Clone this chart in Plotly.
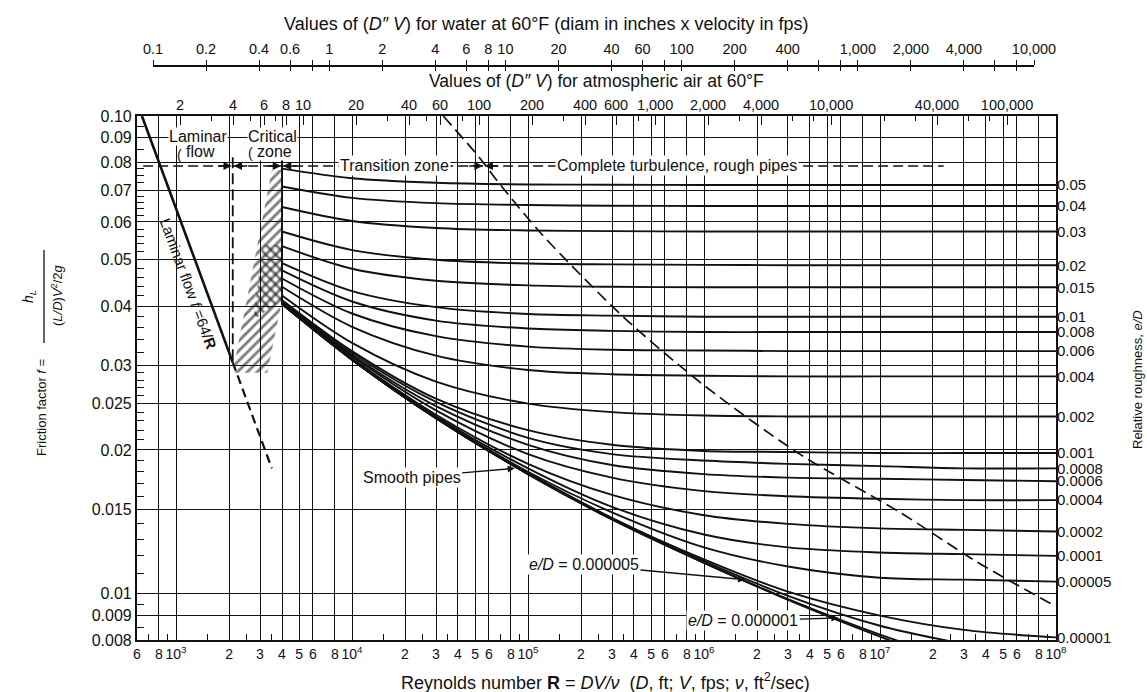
import math
import plotly.graph_objects as go

# ---------------- data ----------------
# Reynolds numbers at which the friction-factor curves were read
RE = [4000, 1e4, 3e4, 1e5, 3e5, 1e6, 3e6, 1e7, 3e7, 1e8]
RE_LOW = [4000, 1e4, 3e4, 1e5, 3e5, 1e6, 3e6, 1e7, 3e7]

ROUGH_LABELS = ["0.05", "0.04", "0.03", "0.02", "0.015", "0.01", "0.008", "0.006",
                "0.004", "0.002", "0.001", "0.0008", "0.0006", "0.0004", "0.0002",
                "0.0001", "0.00005", "0.00001"]
f_050 = [0.0776, 0.0741, 0.0725, 0.0719, 0.0718, 0.0717, 0.0717, 0.0717, 0.0717, 0.0717]
f_040 = [0.0712, 0.0674, 0.0657, 0.0651, 0.0649, 0.0648, 0.0648, 0.0648, 0.0648, 0.0648]
f_030 = [0.0645, 0.0603, 0.0583, 0.0576, 0.0574, 0.0573, 0.0573, 0.0573, 0.0573, 0.0573]
f_020 = [0.0573, 0.0524, 0.0500, 0.0491, 0.0489, 0.0488, 0.0487, 0.0487, 0.0487, 0.0487]
f_015 = [0.0534, 0.0479, 0.0452, 0.0442, 0.0439, 0.0438, 0.0438, 0.0438, 0.0438, 0.0438]
f_010 = [0.0492, 0.0430, 0.0398, 0.0385, 0.0382, 0.0380, 0.0380, 0.0380, 0.0380, 0.0380]
f_008 = [0.0475, 0.0409, 0.0373, 0.0359, 0.0355, 0.0353, 0.0353, 0.0353, 0.0353, 0.0353]
f_006 = [0.0457, 0.0386, 0.0346, 0.0329, 0.0324, 0.0323, 0.0322, 0.0322, 0.0322, 0.0322]
f_004 = [0.0439, 0.0362, 0.0315, 0.0294, 0.0288, 0.0286, 0.0285, 0.0285, 0.0285, 0.0285]
f_002 = [0.0421, 0.0335, 0.0278, 0.0250, 0.0240, 0.0236, 0.0235, 0.0235, 0.0235, 0.0235]
f_001 = [0.0412, 0.0322, 0.0256, 0.0220, 0.0205, 0.0199, 0.0198, 0.0197, 0.0197, 0.0197]
f_0008 = [0.0410, 0.0319, 0.0252, 0.0212, 0.0196, 0.0190, 0.0187, 0.0185, 0.0183, 0.0183]
f_0006 = [0.0409, 0.0316, 0.0247, 0.0205, 0.0186, 0.0178, 0.0175, 0.0174, 0.0173, 0.0172]
f_0004 = [0.0407, 0.0314, 0.0242, 0.0196, 0.0175, 0.0164, 0.0160, 0.0158, 0.0157, 0.0157]
f_0002 = [0.0406, 0.0311, 0.0237, 0.0187, 0.0161, 0.0146, 0.0140, 0.0137, 0.0136, 0.0135]
f_0001 = [0.0405, 0.0310, 0.0235, 0.0183, 0.0152, 0.0133, 0.0125, 0.0122, 0.0121, 0.0120]
f_00005 = [0.0404, 0.0309, 0.0234, 0.0180, 0.0148, 0.0125, 0.0114, 0.0108, 0.0107, 0.0106]
f_00001 = [0.0404, 0.0309, 0.0233, 0.0179, 0.0144, 0.0118, 0.0101, 0.0090, 0.0084, 0.0081]
# curves that leave the chart through the bottom edge
f_000005 = [0.0404, 0.0309, 0.0233, 0.0178, 0.0144, 0.0117, 0.0099, 0.00857, 0.00785]
f_000001 = [0.0404, 0.0309, 0.0233, 0.0178, 0.0143, 0.0116, 0.00974, 0.00821, 0.00719]
f_smooth = [0.0404, 0.0309, 0.0233, 0.0178, 0.0143, 0.0116, 0.00971, 0.00813, 0.00700]

ROUGH_CURVES = [f_050, f_040, f_030, f_020, f_015, f_010, f_008, f_006, f_004, f_002,
                f_001, f_0008, f_0006, f_0004, f_0002, f_0001, f_00005, f_00001]
LOW_CURVES = [f_000005, f_000001, f_smooth]

# laminar line f = 64/R (solid part, dashed extension)
LAM_R = [640, 2100]
LAM_F = [0.100, 0.0305]
LAM_EXT_R = [2100, 3500]
LAM_EXT_F = [0.0305, 0.0183]
# dashed vertical boundary of the laminar zone
CRIT_R = [2100, 2100]
CRIT_F = [0.082, 0.0305]
# zone line across the top
ZONE_R = [650, 2.3e7]
ZONE_F = [0.0786, 0.0786]
ZONE_ARROW_R = [2100, 4000, 5.6e4]
# boundary of complete turbulence (dashed curve)
TURB_R = [3.3e4, 5.3e4, 7e4, 1.2e5, 3.5e5, 1e6, 3.5e6, 1.3e7, 3.5e7, 1e8]
TURB_F = [0.100, 0.0818, 0.0716, 0.0565, 0.0379, 0.0273, 0.0196, 0.0148, 0.0117, 0.0094]
# hatched critical zone
HATCH_R = [3500, 4000, 4000, 3300, 2100]
HATCH_F = [0.0771, 0.0771, 0.0412, 0.0290, 0.0290]
CROSS_R = [3100, 4000, 4000, 2750]
CROSS_F = [0.0537, 0.0537, 0.0412, 0.0374]

# axis ticks
XT = [600, 800, 1e3, 2e3, 3e3, 4e3, 5e3, 6e3, 8e3, 1e4, 2e4, 3e4, 4e4, 5e4, 6e4, 8e4,
      1e5, 2e5, 3e5, 4e5, 5e5, 6e5, 8e5, 1e6, 2e6, 3e6, 4e6, 5e6, 6e6, 8e6,
      1e7, 2e7, 3e7, 4e7, 5e7, 6e7, 8e7, 1e8]
XT_TEXT = ["6", "8", "10<sup>3</sup>", "2", "3", "4", "5", "6", "8", "10<sup>4</sup>",
           "2", "3", "4", "5", "6", "8", "10<sup>5</sup>", "2", "3", "4", "5", "6", "8",
           "10<sup>6</sup>", "2", "3", "4", "5", "6", "8", "10<sup>7</sup>",
           "2", "3", "4", "5", "6", "8", "10<sup>8</sup>"]
XM = [700, 900, 1500, 2500, 3500, 1.5e4, 2.5e4, 3.5e4, 7e4, 9e4, 1.5e5, 2.5e5, 3.5e5,
      7e5, 9e5, 1.5e6, 2.5e6, 3.5e6, 7e6, 9e6, 1.5e7, 2.5e7, 3.5e7, 7e7, 9e7]
YT = [0.008, 0.009, 0.01, 0.015, 0.02, 0.025, 0.03, 0.04, 0.05, 0.06, 0.07, 0.08, 0.09, 0.1]
YT_TEXT = ["0.008", "0.009", "0.01", "0.015", "0.02", "0.025", "0.03", "0.04", "0.05",
           "0.06", "0.07", "0.08", "0.09", "0.10"]
YM = [0.0085, 0.0095, 0.011, 0.012, 0.013, 0.014, 0.016, 0.017, 0.018, 0.019, 0.021,
      0.022, 0.023, 0.024, 0.026, 0.027, 0.028, 0.029, 0.032, 0.034, 0.036, 0.038,
      0.042, 0.044, 0.046, 0.048, 0.052, 0.054, 0.056, 0.058, 0.062, 0.064, 0.066,
      0.068, 0.0725, 0.075, 0.0775, 0.085, 0.095]
WATER_T = [0.1, 0.2, 0.4, 0.6, 0.8, 1, 2, 4, 6, 8, 10, 20, 40, 60, 80, 100, 200, 400,
           600, 800, 1000, 2000, 4000, 6000, 8000, 10000]
WATER_TEXT = ["0.1", "0.2", "0.4", "0.6", "", "1", "2", "4", "6", "8", "10", "20", "40",
              "60", "", "100", "200", "400", "", "", "1,000", "2,000", "4,000", "", "",
              "10,000"]
AIR_T = [2, 4, 6, 8, 10, 20, 40, 60, 100, 200, 400, 600, 1000, 2000, 4000, 10000,
         40000, 100000]
AIR_TEXT = ["2", "4", "6", "8", "10", "20", "40", "60", "100", "200", "400", "600",
            "1,000", "2,000", "4,000", "10,000", "40,000", "100,000"]
AIR_M = [3, 5, 7, 30, 50, 80, 300, 800, 3000, 6000, 8000, 20000, 30000, 60000, 80000]
AIR_FACTOR = 527.0          # R per unit of D"V for air at 60 F

R_MIN, R_MAX = 600, 1e8
F_MIN, F_MAX = 0.008, 0.1

# ---------------- layout geometry ----------------
ML, MR, MT, MB = 137, 91, 40, 52
W, H = 1147, 692
PW, PH = W - ML - MR, H - MT - MB
Y_DOMAIN_TOP = (H - MB - 116) / PH


def paper(x, y):
    return (x - ML) / PW, (H - MB - y) / PH


INK = "#111111"
FONT = "Liberation Sans, Arial, Helvetica, sans-serif"
CLEAR = "rgba(0,0,0,0)"

fig = go.Figure()

# hatched critical zone
fig.add_trace(go.Scatter(x=HATCH_R, y=HATCH_F, mode="lines", fill="toself",
                         line=dict(width=0, color=CLEAR), fillcolor=CLEAR,
                         fillpattern=dict(shape="/", fgcolor="#000000", bgcolor=CLEAR,
                                          size=7, solidity=0.42),
                         hoverinfo="skip"))
fig.add_trace(go.Scatter(x=CROSS_R, y=CROSS_F, mode="lines", fill="toself",
                         line=dict(width=0, color=CLEAR), fillcolor=CLEAR,
                         fillpattern=dict(shape="\\", fgcolor="#000000", bgcolor=CLEAR,
                                          size=7, solidity=0.38),
                         hoverinfo="skip"))

# roughness curves
for fl in ROUGH_CURVES:
    fig.add_trace(go.Scatter(x=RE, y=fl, mode="lines",
                             line=dict(color=INK, width=1.9, shape="spline", smoothing=0.9),
                             hoverinfo="skip"))
for fl in LOW_CURVES:
    fig.add_trace(go.Scatter(x=RE_LOW, y=fl, mode="lines",
                             line=dict(color=INK, width=1.9, shape="spline", smoothing=0.9),
                             hoverinfo="skip"))

# start line of the turbulent curves
fig.add_trace(go.Scatter(x=[RE[0], RE[0]], y=[0.082, f_smooth[0]], mode="lines",
                         line=dict(color=INK, width=1.9), hoverinfo="skip"))

# laminar line
fig.add_trace(go.Scatter(x=LAM_R, y=LAM_F, mode="lines",
                         line=dict(color=INK, width=2.6), hoverinfo="skip"))
fig.add_trace(go.Scatter(x=LAM_EXT_R, y=LAM_EXT_F, mode="lines",
                         line=dict(color=INK, width=2.2, dash="9px,5px"), hoverinfo="skip"))
fig.add_trace(go.Scatter(x=CRIT_R, y=CRIT_F, mode="lines",
                         line=dict(color=INK, width=1.8, dash="11px,5px"), hoverinfo="skip"))
fig.add_trace(go.Scatter(x=ZONE_R, y=ZONE_F, mode="lines",
                         line=dict(color=INK, width=1.5, dash="10px,5px"), hoverinfo="skip"))
fig.add_trace(go.Scatter(x=TURB_R, y=TURB_F, mode="lines",
                         line=dict(color=INK, width=1.7, dash="12px,6px", shape="spline",
                                   smoothing=0.8),
                         hoverinfo="skip"))

# dummy traces so that the extra axes are drawn
fig.add_trace(go.Scatter(x=[1], y=[0.05], xaxis="x2", yaxis="y", mode="markers",
                         marker=dict(opacity=0), hoverinfo="skip"))
fig.add_trace(go.Scatter(x=[100], y=[0.05], xaxis="x3", yaxis="y", mode="markers",
                         marker=dict(opacity=0), hoverinfo="skip"))
fig.add_trace(go.Scatter(x=[1e5], y=[0.05], xaxis="x", yaxis="y2", mode="markers",
                         marker=dict(opacity=0), hoverinfo="skip"))
fig.add_trace(go.Scatter(x=[1], y=[0.05], xaxis="x4", yaxis="y", mode="markers",
                         marker=dict(opacity=0), hoverinfo="skip"))

annotations = []


def ann_data(text, R, f, size=16, **kw):
    d = dict(text=text, x=math.log10(R), y=math.log10(f), xref="x", yref="y",
             showarrow=False, font=dict(family=FONT, size=size, color=INK))
    d.update(kw)
    annotations.append(d)


def ann_px(text, xpx, ypx, size=13, **kw):
    px_, py_ = paper(xpx, ypx)
    d = dict(text=text, x=px_, y=py_, xref="paper", yref="paper", showarrow=False,
             xanchor="center", yanchor="middle", font=dict(family=FONT, size=size, color=INK))
    d.update(kw)
    annotations.append(d)


# zone arrows
for r in ZONE_ARROW_R:
    for side in (-1, 1):
        annotations.append(dict(x=math.log10(r), y=math.log10(ZONE_F[0]), xref="x", yref="y",
                                ax=16 * side, ay=0, text="", showarrow=True, arrowhead=2,
                                arrowsize=1.1, arrowwidth=1.5, arrowcolor=INK, standoff=1))

ann_data("Laminar", 1340, 0.0905, bgcolor="white", borderpad=0)
ann_data("flow", 1370, 0.0842, bgcolor="white", borderpad=0)
ann_data("(", 1045, 0.0828, size=14)
ann_data("Critical", 3520, 0.0905, bgcolor="white", borderpad=0)
ann_data("zone", 3620, 0.0842, bgcolor="white", borderpad=0)
ann_data("(", 2640, 0.0836, size=14)
ann_data("Transition zone", 1.75e4, 0.0786, bgcolor="white", borderpad=1)
ann_data("Complete turbulence, rough pipes", 7.0e5, 0.0786, bgcolor="white", borderpad=1)
ann_data("Laminar flow <i>f</i> =64/<b>R</b>", 1180, 0.0447, size=15, textangle=69.8)

# labels with arrows
annotations.append(dict(text="Smooth pipes", x=math.log10(8.4e4), y=math.log10(0.0183),
                        xref="x", yref="y", ax=-103, ay=9, showarrow=True, arrowhead=2,
                        arrowsize=1, arrowwidth=1.4, arrowcolor=INK, bgcolor="white",
                        font=dict(family=FONT, size=16, color=INK)))
annotations.append(dict(text="<i>e/D</i> = 0.000005", x=math.log10(1.71e6),
                        y=math.log10(0.0107), xref="x", yref="y", ax=-161, ay=-15,
                        showarrow=True, arrowhead=2, arrowsize=1, arrowwidth=1.4,
                        arrowcolor=INK, bgcolor="white",
                        font=dict(family=FONT, size=16, color=INK)))
annotations.append(dict(text="<i>e/D</i> = 0.000001", x=math.log10(5.8e6),
                        y=math.log10(0.0089), xref="x", yref="y", ax=-95, ay=3,
                        showarrow=True, arrowhead=2, arrowsize=1, arrowwidth=1.4,
                        arrowcolor=INK, bgcolor="white",
                        font=dict(family=FONT, size=16, color=INK)))

# axis titles
ann_px("Values of (<i>D\u2033 V</i>) for water at 60°F (diam in inches x velocity in fps)",
       546, 24, size=18)
ann_px("Values of (<i>D\u2033 V</i>) for atmospheric air at 60°F", 596, 81, size=17.5)
ann_px("Reynolds number <b>R</b> = <i>DV/\u03bd</i>  (<i>D</i>, ft; <i>V</i>, fps; "
       "<i>\u03bd</i>, ft<sup>2</sup>/sec)", 605, 681, size=18)
ann_px("Relative roughness, <i>e/D</i>", 1137, 380, size=13, textangle=-90)
ann_px("Friction factor <i>f</i> =", 41, 408, size=13, textangle=-90)
ann_px("<i>h<sub>L</sub></i>", 29, 297, size=14, textangle=-90)
ann_px("(<i>L/D</i>)<i>V</i><sup>2</sup>/2<i>g</i>", 57, 295, size=13, textangle=-90)

bx, by0 = paper(44, 250)
_, by1 = paper(44, 343)
shapes = [dict(type="line", xref="paper", yref="paper", x0=bx, x1=bx, y0=by0, y1=by1,
               line=dict(color=INK, width=1.3))]

log_range_y = [math.log10(F_MIN), math.log10(F_MAX)]
w0, _ = paper(153, 0)
w1, _ = paper(1034, 0)
water_pos = (H - MB - 66) / PH
water_range = [math.log10(WATER_T[0]), math.log10(WATER_T[-1])]

fig.update_layout(
    width=W, height=H,
    margin=dict(l=ML, r=MR, t=MT, b=MB),
    paper_bgcolor="white", plot_bgcolor=CLEAR,
    showlegend=False,
    font=dict(family=FONT, size=13, color=INK),
    annotations=annotations,
    shapes=shapes,
    xaxis=dict(type="log", range=[math.log10(R_MIN), math.log10(R_MAX)], domain=[0, 1],
               anchor="y", tickmode="array", tickvals=XT, ticktext=XT_TEXT, ticks="",
               tickangle=0,
               showgrid=True, gridcolor=INK, gridwidth=1.3, zeroline=False,
               showline=True, linecolor=INK, linewidth=2.2, mirror=True,
               tickfont=dict(size=14),
               minor=dict(tickmode="array", tickvals=XM, ticks="inside", ticklen=6,
                          tickcolor=INK, tickwidth=1.2, showgrid=False)),
    yaxis=dict(type="log", range=log_range_y, domain=[0, Y_DOMAIN_TOP], anchor="x",
               tickmode="array", tickvals=YT, ticktext=YT_TEXT, ticks="",
               showgrid=True, gridcolor=INK, gridwidth=1.3, zeroline=False,
               showline=True, linecolor=INK, linewidth=2.2, mirror=True,
               tickfont=dict(size=16),
               minor=dict(tickmode="array", tickvals=YM, ticks="inside", ticklen=7,
                          tickcolor=INK, tickwidth=1.2, showgrid=False)),
    yaxis2=dict(type="log", range=log_range_y, overlaying="y", side="right", anchor="x",
                tickmode="array", tickvals=[c[-1] for c in ROUGH_CURVES],
                ticktext=ROUGH_LABELS, ticks="", showgrid=False, zeroline=False,
                showline=False, tickfont=dict(size=15)),
    xaxis2=dict(type="log", range=water_range, domain=[w0, w1], anchor="free",
                position=water_pos, side="top", tickangle=0,
                tickmode="array", tickvals=WATER_T, ticktext=WATER_TEXT, ticks="outside",
                ticklen=5, tickwidth=1.4, tickcolor=INK, showgrid=False, zeroline=False,
                showline=True, linecolor=INK, linewidth=1.6, tickfont=dict(size=14.5)),
    xaxis4=dict(type="log", range=water_range, domain=[w0, w1], anchor="free",
                position=water_pos, side="top", tickmode="array", tickvals=WATER_T,
                showticklabels=False, ticks="inside", ticklen=4, tickwidth=1.4,
                tickcolor=INK, showgrid=False, zeroline=False, showline=False),
    xaxis3=dict(type="log",
                range=[math.log10(R_MIN / AIR_FACTOR), math.log10(R_MAX / AIR_FACTOR)],
                overlaying="x", side="top", anchor="y", tickangle=0,
                tickmode="array", tickvals=AIR_T, ticktext=AIR_TEXT, ticks="inside",
                ticklen=9, tickwidth=1.3, tickcolor=INK, showgrid=False, zeroline=False,
                showline=False, tickfont=dict(size=14.5), ticklabelstandoff=2,
                minor=dict(tickmode="array", tickvals=AIR_M, ticks="inside", ticklen=5,
                           tickcolor=INK, showgrid=False)),
)

fig.write_html("out.html")
